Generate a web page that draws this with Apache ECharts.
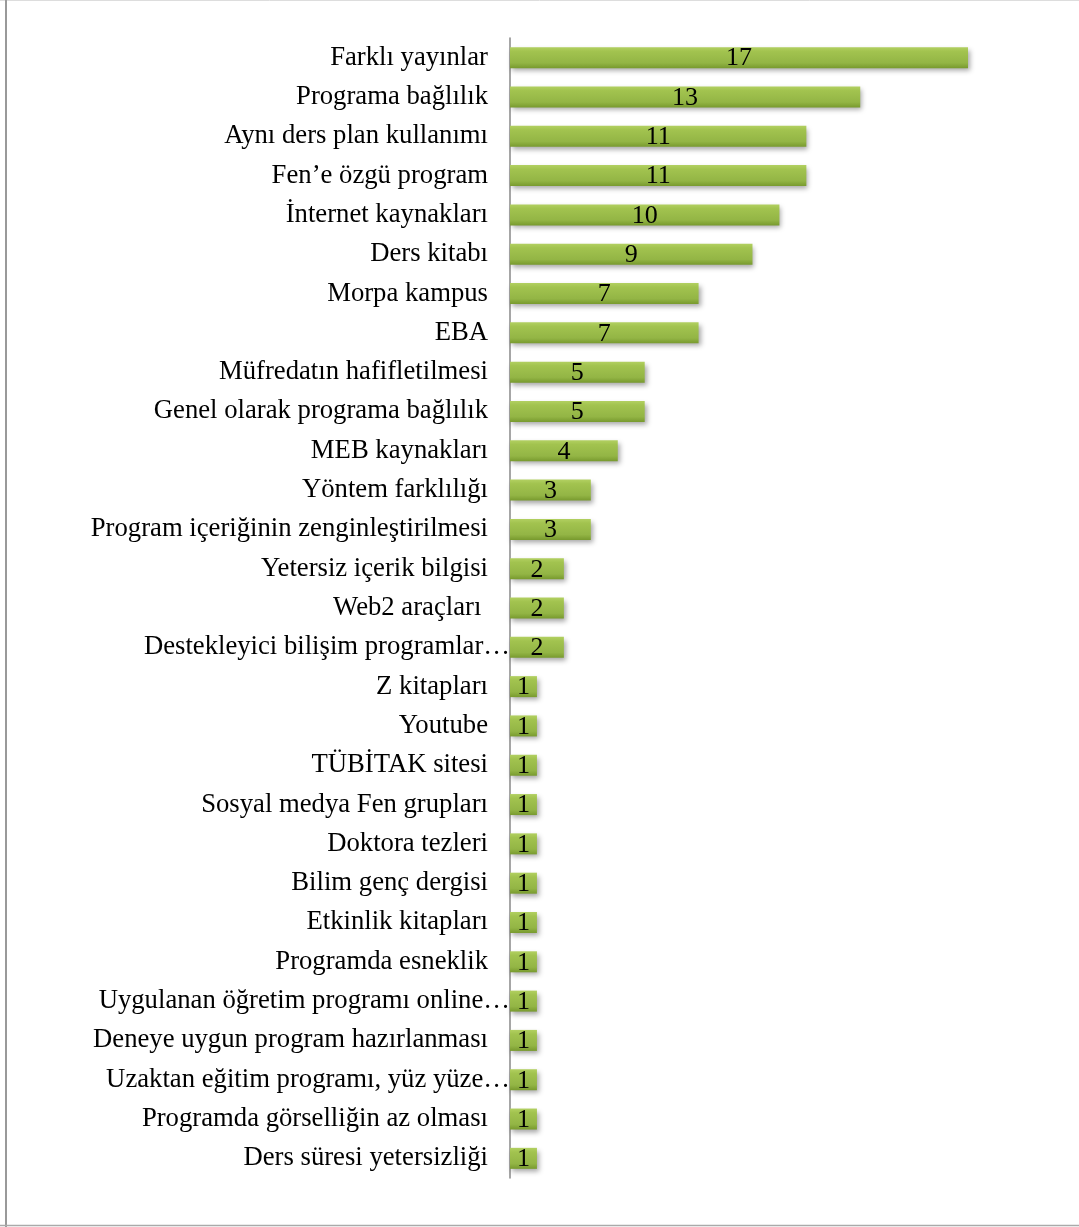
<!DOCTYPE html>
<html>
<head>
<meta charset="utf-8">
<script src="https://cdn.jsdelivr.net/npm/echarts@6/dist/echarts.min.js"></script>
<style>
  html, body { margin: 0; padding: 0; background: #fff; }
  #chart { width: 1079px; height: 1227px; }
</style>
</head>
<body>
<div id="chart"></div>
<script>
// kategoriler (yukarıdan aşağıya)
const categories = [
  'Farklı yayınlar',
  'Programa bağlılık',
  'Aynı ders plan kullanımı',
  'Fen’e özgü program',
  'İnternet kaynakları',
  'Ders kitabı',
  'Morpa kampus',
  'EBA',
  'Müfredatın hafifletilmesi',
  'Genel olarak programa bağlılık',
  'MEB kaynakları',
  'Yöntem farklılığı',
  'Program içeriğinin zenginleştirilmesi',
  'Yetersiz içerik bilgisi',
  'Web2 araçları ',
  'Destekleyici bilişim programlar…',
  'Z kitapları',
  'Youtube',
  'TÜBİTAK sitesi',
  'Sosyal medya Fen grupları',
  'Doktora tezleri',
  'Bilim genç dergisi',
  'Etkinlik kitapları',
  'Programda esneklik',
  'Uygulanan öğretim programı online…',
  'Deneye uygun program hazırlanması',
  'Uzaktan eğitim programı, yüz yüze…',
  'Programda görselliğin az olması',
  'Ders süresi yetersizliği'
];

// frekanslar
const values = [17, 13, 11, 11, 10, 9, 7, 7, 5, 5, 4, 3, 3, 2, 2, 2,
  1, 1, 1, 1, 1, 1, 1, 1, 1, 1, 1, 1, 1];

const FONT = "'Liberation Serif', 'Times New Roman', serif";

const chart = echarts.init(document.getElementById('chart'));

chart.setOption({
  animation: false,
  grid: {
    left: 510,
    right: 111,
    top: 38,
    bottom: 49
  },
  xAxis: {
    type: 'value',
    min: 0,
    max: 17,
    show: false
  },
  yAxis: {
    type: 'category',
    data: categories,
    inverse: true,
    axisLine: { lineStyle: { color: '#888', width: 1.5 } },
    axisTick: { show: false },
    axisLabel: {
      color: '#000',
      fontFamily: FONT,
      fontSize: 26.7,
      margin: 22,
      formatter: function (v) {
        // kesilmiş etiketler eksene kadar uzanıyor
        return v.endsWith('…') ? '{cut|' + v + '}' : v;
      },
      rich: {
        cut: { fontFamily: FONT, fontSize: 26.7, color: '#000', padding: [0, -22, 0, 0] }
      }
    }
  },
  series: [
    {
      type: 'bar',
      data: values,
      barWidth: 21,
      itemStyle: {
        color: new echarts.graphic.LinearGradient(0, 0, 0, 1, [
          { offset: 0, color: '#b2d061' },
          { offset: 0.2, color: '#a2c34f' },
          { offset: 0.75, color: '#93b545' },
          { offset: 1, color: '#789a2e' }
        ]),
        shadowColor: 'rgba(0, 0, 0, 0.35)',
        shadowBlur: 5,
        shadowOffsetX: 2,
        shadowOffsetY: 3
      },
      label: {
        show: true,
        position: 'inside',
        color: '#000',
        fontFamily: FONT,
        fontSize: 26,
        offset: [0, 1]
      }
    }
  ],
  graphic: [
    // çerçeve
    { type: 'line', shape: { x1: 0, y1: 0.5, x2: 1079, y2: 0.5 }, style: { stroke: '#ddd', lineWidth: 1 } },
    { type: 'line', shape: { x1: 6, y1: 0, x2: 6, y2: 1227 }, style: { stroke: '#999', lineWidth: 2 } },
    { type: 'line', shape: { x1: 0, y1: 1225.5, x2: 1079, y2: 1225.5 }, style: { stroke: '#aaa', lineWidth: 1.5 } }
  ]
});
</script>
</body>
</html>
